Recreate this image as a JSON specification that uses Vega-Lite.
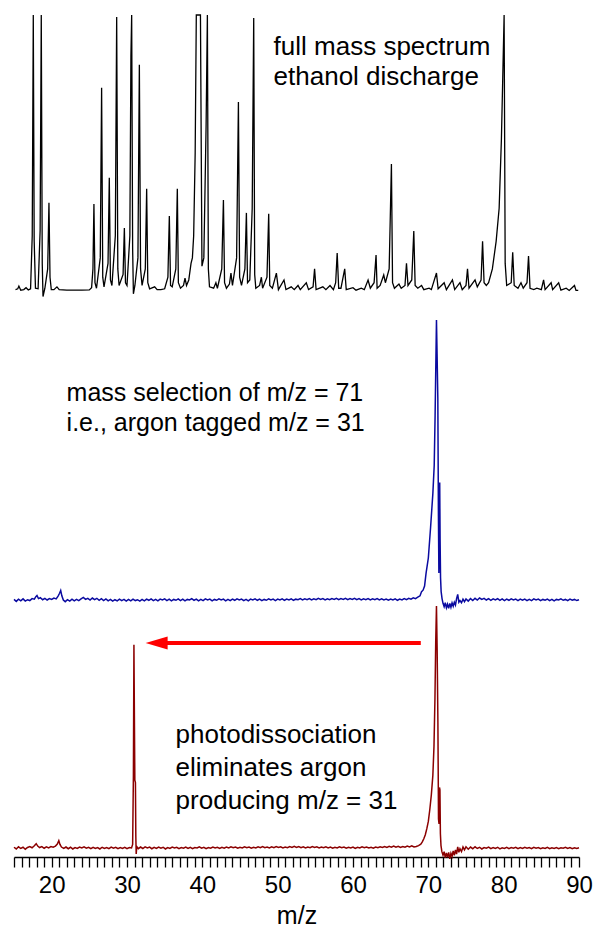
{
"$schema": "https://vega.github.io/schema/vega-lite/v6.json",
"width": 598, "height": 936,
"autosize": {"type": "fit", "contains": "padding"},
"padding": {"left": 11, "top": 10, "right": 5, "bottom": 8},
"background": "white",
"config": {"view": {"stroke": null}, "font": "Liberation Sans"},
"datasets": {
"black": [
{"m":15.2,"v":0.5},{"m":15.5,"v":0.8},{"m":15.65,"v":1.8},{"m":15.9,"v":0.3},{"m":16.3,"v":0.5},{"m":16.6,"v":1.2},{"m":16.9,"v":0.4},{"m":17.2,"v":0.8},{"m":17.42,"v":20},{"m":17.56,"v":100},{"m":17.68,"v":18},{"m":17.85,"v":1},{"m":18.2,"v":0.8},{"m":18.47,"v":22},{"m":18.62,"v":100},{"m":18.75,"v":10},{"m":18.85,"v":-2},{"m":19.1,"v":1},{"m":19.47,"v":8},{"m":19.64,"v":32},{"m":19.78,"v":5},{"m":19.95,"v":0.5},{"m":20.3,"v":0.5},{"m":20.7,"v":1.5},{"m":21.0,"v":0.5},{"m":22.0,"v":0.3},{"m":23.0,"v":0.3},{"m":24.0,"v":0.3},{"m":25.0,"v":0.4},{"m":25.3,"v":1.2},{"m":25.48,"v":8},{"m":25.61,"v":31.5},{"m":25.75,"v":3},{"m":25.95,"v":1},{"m":26.45,"v":12},{"m":26.63,"v":73.6},{"m":26.78,"v":5},{"m":26.95,"v":1.5},{"m":27.48,"v":10},{"m":27.65,"v":41},{"m":27.8,"v":4},{"m":28.0,"v":2},{"m":28.45,"v":20},{"m":28.63,"v":99.3},{"m":28.78,"v":8},{"m":28.95,"v":2},{"m":29.48,"v":6},{"m":29.65,"v":22.8},{"m":29.8,"v":3},{"m":30.0,"v":2},{"m":30.38,"v":20},{"m":30.52,"v":85},{"m":30.62,"v":100},{"m":30.75,"v":15},{"m":30.85,"v":-1},{"m":31.05,"v":2},{"m":31.45,"v":12},{"m":31.64,"v":82},{"m":31.8,"v":8},{"m":32.0,"v":2},{"m":32.43,"v":8},{"m":32.61,"v":37},{"m":32.76,"v":3},{"m":33.0,"v":0.8},{"m":33.67,"v":1.5},{"m":34.0,"v":0.5},{"m":34.5,"v":0.5},{"m":35.0,"v":0.8},{"m":35.43,"v":5},{"m":35.62,"v":27.2},{"m":35.78,"v":2},{"m":36.0,"v":1.5},{"m":36.48,"v":8},{"m":36.68,"v":37},{"m":36.82,"v":3},{"m":37.1,"v":1},{"m":37.5,"v":2},{"m":37.7,"v":4.7},{"m":37.9,"v":2},{"m":38.2,"v":4},{"m":38.5,"v":10},{"m":38.68,"v":12},{"m":38.85,"v":20},{"m":39.05,"v":50},{"m":39.2,"v":100},{"m":39.75,"v":100},{"m":39.95,"v":9},{"m":40.2,"v":12},{"m":40.5,"v":60},{"m":40.67,"v":100},{"m":40.8,"v":8},{"m":40.95,"v":1.5},{"m":41.5,"v":1},{"m":41.8,"v":3},{"m":42.0,"v":1},{"m":42.58,"v":8},{"m":42.8,"v":33},{"m":42.95,"v":3},{"m":43.2,"v":1},{"m":43.6,"v":2.5},{"m":43.8,"v":6.5},{"m":44.0,"v":2},{"m":44.55,"v":12},{"m":44.79,"v":68.5},{"m":44.95,"v":5},{"m":45.2,"v":2},{"m":45.65,"v":8},{"m":45.85,"v":28.3},{"m":46.0,"v":3},{"m":46.3,"v":4},{"m":46.62,"v":30},{"m":46.82,"v":98.9},{"m":46.95,"v":6},{"m":47.1,"v":1},{"m":47.6,"v":2},{"m":47.84,"v":5},{"m":48.0,"v":1},{"m":48.58,"v":5},{"m":48.81,"v":28},{"m":48.95,"v":2},{"m":49.3,"v":1},{"m":49.83,"v":6.5},{"m":50.1,"v":0.5},{"m":50.84,"v":4},{"m":51.1,"v":0.5},{"m":51.8,"v":1.5},{"m":52.2,"v":0.5},{"m":52.7,"v":2},{"m":53.0,"v":0.5},{"m":53.8,"v":3},{"m":54.1,"v":0.5},{"m":54.7,"v":1.5},{"m":54.9,"v":8},{"m":55.1,"v":0.5},{"m":56.0,"v":1.5},{"m":56.4,"v":0.5},{"m":56.95,"v":2},{"m":57.4,"v":0.5},{"m":57.7,"v":3},{"m":57.9,"v":13.8},{"m":58.1,"v":1},{"m":58.4,"v":1},{"m":58.9,"v":8},{"m":59.1,"v":0.5},{"m":60.0,"v":1.2},{"m":60.4,"v":0.3},{"m":61.1,"v":1},{"m":61.5,"v":0.5},{"m":62.0,"v":4},{"m":62.3,"v":1},{"m":62.8,"v":3},{"m":63.06,"v":13},{"m":63.2,"v":1},{"m":63.6,"v":2},{"m":64.08,"v":5.8},{"m":64.3,"v":3},{"m":64.8,"v":8},{"m":65.1,"v":46},{"m":65.25,"v":3},{"m":65.5,"v":1},{"m":66.1,"v":2.5},{"m":66.4,"v":1},{"m":66.9,"v":2},{"m":67.1,"v":10},{"m":67.3,"v":2},{"m":67.8,"v":4},{"m":68.07,"v":21.7},{"m":68.25,"v":2},{"m":68.6,"v":1},{"m":69.1,"v":2},{"m":69.4,"v":0.5},{"m":70.1,"v":1},{"m":70.4,"v":0.5},{"m":71.08,"v":6.5},{"m":71.3,"v":0.8},{"m":72.1,"v":3},{"m":72.4,"v":0.5},{"m":73.2,"v":4},{"m":73.5,"v":0.5},{"m":74.2,"v":3},{"m":74.5,"v":0.5},{"m":75.0,"v":2},{"m":75.2,"v":8},{"m":75.4,"v":1},{"m":76.2,"v":4},{"m":76.5,"v":1.5},{"m":77.0,"v":4},{"m":77.2,"v":18},{"m":77.4,"v":3},{"m":77.7,"v":2},{"m":78.0,"v":3},{"m":78.5,"v":8},{"m":79.0,"v":18},{"m":79.4,"v":30},{"m":79.7,"v":55},{"m":79.9,"v":80},{"m":80.06,"v":100},{"m":80.2,"v":10},{"m":80.4,"v":2},{"m":81.0,"v":3},{"m":81.2,"v":14},{"m":81.4,"v":2},{"m":81.9,"v":1},{"m":82.3,"v":3},{"m":82.6,"v":1},{"m":83.1,"v":3},{"m":83.3,"v":12.7},{"m":83.5,"v":1},{"m":84.0,"v":0.5},{"m":84.4,"v":1},{"m":85.0,"v":0.5},{"m":85.3,"v":4},{"m":85.5,"v":0.5},{"m":86.3,"v":3},{"m":86.5,"v":0.5},{"m":87.3,"v":3},{"m":87.6,"v":0.3},{"m":88.3,"v":1},{"m":88.7,"v":0.2},{"m":89.4,"v":2},{"m":89.6,"v":0.2},{"m":89.9,"v":0.2}
],
"blue": [
{"m":15.0,"v":0.2},{"m":15.3,"v":-0.5},{"m":15.6,"v":0.3},{"m":15.9,"v":-0.3},{"m":16.2,"v":0.4},{"m":16.5,"v":-0.4},{"m":16.8,"v":0.1},{"m":17.1,"v":-0.2},{"m":17.4,"v":0.5},{"m":17.7,"v":0.3},{"m":17.9,"v":1.2},{"m":18.05,"v":1.6},{"m":18.25,"v":0.5},{"m":18.5,"v":0.8},{"m":18.8,"v":0.1},{"m":19.1,"v":0.6},{"m":19.4,"v":0.0},{"m":19.7,"v":0.5},{"m":20.0,"v":0.2},{"m":20.3,"v":0.7},{"m":20.6,"v":0.4},{"m":20.85,"v":1.4},{"m":21.05,"v":2.4},{"m":21.2,"v":3.4},{"m":21.35,"v":1.5},{"m":21.55,"v":0.0},{"m":21.8,"v":-0.6},{"m":22.1,"v":0.1},{"m":22.4,"v":-0.4},{"m":22.7,"v":0.3},{"m":23.0,"v":-0.3},{"m":23.3,"v":0.2},{"m":23.6,"v":-0.2},{"m":23.9,"v":0.4},{"m":24.2,"v":0.9},{"m":24.5,"v":0.2},{"m":24.8,"v":0.6},{"m":25.1,"v":0.0},{"m":25.4,"v":0.7},{"m":25.7,"v":0.1},{"m":26.0,"v":0.6},{"m":26.3,"v":-0.1},{"m":26.6,"v":0.5},{"m":26.9,"v":-0.2},{"m":27.2,"v":0.4},{"m":27.5,"v":-0.3},{"m":27.8,"v":0.2},{"m":28.1,"v":-0.4},{"m":28.4,"v":0.1},{"m":28.7,"v":-0.3},{"m":29.0,"v":0.3},{"m":29.3,"v":-0.2},{"m":29.6,"v":0.2},{"m":29.9,"v":-0.4},{"m":30.2,"v":0.2},{"m":30.5,"v":-0.3},{"m":30.8,"v":0.3},{"m":31.1,"v":-0.2},{"m":31.4,"v":0.1},{"m":31.7,"v":-0.4},{"m":32.0,"v":0.2},{"m":32.3,"v":-0.3},{"m":32.6,"v":0.3},{"m":32.9,"v":-0.1},{"m":33.2,"v":0.4},{"m":33.5,"v":-0.2},{"m":33.8,"v":0.2},{"m":34.1,"v":-0.3},{"m":34.4,"v":0.3},{"m":34.7,"v":0.0},{"m":35.0,"v":0.4},{"m":35.3,"v":-0.2},{"m":35.6,"v":0.3},{"m":35.9,"v":-0.3},{"m":36.2,"v":0.2},{"m":36.5,"v":-0.1},{"m":36.8,"v":0.4},{"m":37.1,"v":-0.2},{"m":37.4,"v":0.3},{"m":37.7,"v":-0.3},{"m":38.0,"v":0.2},{"m":38.3,"v":0.0},{"m":38.6,"v":0.5},{"m":38.9,"v":-0.1},{"m":39.2,"v":0.3},{"m":39.5,"v":-0.3},{"m":39.8,"v":0.2},{"m":40.1,"v":-0.2},{"m":40.4,"v":0.4},{"m":40.7,"v":0.0},{"m":41.0,"v":0.3},{"m":41.3,"v":-0.3},{"m":41.6,"v":0.2},{"m":41.9,"v":-0.1},{"m":42.2,"v":0.4},{"m":42.5,"v":0.0},{"m":42.8,"v":0.3},{"m":43.1,"v":-0.3},{"m":43.4,"v":0.2},{"m":43.7,"v":-0.2},{"m":44.0,"v":0.3},{"m":44.3,"v":-0.1},{"m":44.6,"v":0.4},{"m":44.9,"v":0.0},{"m":45.2,"v":0.3},{"m":45.5,"v":-0.2},{"m":45.8,"v":0.2},{"m":46.1,"v":-0.3},{"m":46.4,"v":0.3},{"m":46.7,"v":0.0},{"m":47.0,"v":0.4},{"m":47.3,"v":-0.1},{"m":47.6,"v":0.3},{"m":47.9,"v":-0.2},{"m":48.2,"v":0.2},{"m":48.5,"v":-0.1},{"m":48.8,"v":0.4},{"m":49.1,"v":0.0},{"m":49.4,"v":0.3},{"m":49.7,"v":-0.2},{"m":50.0,"v":0.3},{"m":50.3,"v":0.0},{"m":50.6,"v":0.4},{"m":50.9,"v":-0.1},{"m":51.2,"v":0.3},{"m":51.5,"v":0.0},{"m":51.8,"v":0.4},{"m":52.1,"v":-0.1},{"m":52.4,"v":0.3},{"m":52.7,"v":0.1},{"m":53.0,"v":0.5},{"m":53.3,"v":0.0},{"m":53.6,"v":0.4},{"m":53.9,"v":0.1},{"m":54.2,"v":0.5},{"m":54.5,"v":0.0},{"m":54.8,"v":0.4},{"m":55.1,"v":0.1},{"m":55.4,"v":0.6},{"m":55.7,"v":0.2},{"m":56.0,"v":0.5},{"m":56.3,"v":0.0},{"m":56.6,"v":0.4},{"m":56.9,"v":0.1},{"m":57.2,"v":0.5},{"m":57.5,"v":0.2},{"m":57.8,"v":0.6},{"m":58.1,"v":0.1},{"m":58.4,"v":0.5},{"m":58.7,"v":0.2},{"m":59.0,"v":0.6},{"m":59.3,"v":0.1},{"m":59.6,"v":0.5},{"m":59.9,"v":0.2},{"m":60.2,"v":0.6},{"m":60.5,"v":0.1},{"m":60.8,"v":0.5},{"m":61.1,"v":0.0},{"m":61.4,"v":0.4},{"m":61.7,"v":0.1},{"m":62.0,"v":0.5},{"m":62.3,"v":0.0},{"m":62.6,"v":0.4},{"m":62.9,"v":0.1},{"m":63.2,"v":0.5},{"m":63.5,"v":0.0},{"m":63.8,"v":0.4},{"m":64.1,"v":0.0},{"m":64.4,"v":0.3},{"m":64.7,"v":-0.1},{"m":65.0,"v":0.3},{"m":65.3,"v":0.0},{"m":65.6,"v":0.4},{"m":65.9,"v":-0.1},{"m":66.2,"v":0.3},{"m":66.5,"v":0.0},{"m":66.8,"v":0.5},{"m":67.1,"v":0.1},{"m":67.4,"v":0.6},{"m":67.7,"v":0.3},{"m":68.0,"v":0.8},{"m":68.3,"v":0.5},{"m":68.6,"v":1.0},{"m":68.9,"v":1.5},{"m":69.1,"v":3.0},{"m":69.3,"v":3.5},{"m":69.5,"v":5},{"m":69.7,"v":9.6},{"m":70.0,"v":15},{"m":70.3,"v":26},{"m":70.6,"v":38},{"m":70.78,"v":48},{"m":70.9,"v":66},{"m":71.0,"v":85},{"m":71.08,"v":100},{"m":71.16,"v":88},{"m":71.26,"v":72},{"m":71.34,"v":30},{"m":71.4,"v":9.6},{"m":71.46,"v":26},{"m":71.51,"v":42},{"m":71.56,"v":22},{"m":71.62,"v":8},{"m":71.7,"v":3},{"m":71.82,"v":0.5},{"m":71.95,"v":-1.2},{"m":72.1,"v":-2.4},{"m":72.25,"v":-1.0},{"m":72.4,"v":-2.8},{"m":72.55,"v":-1.5},{"m":72.7,"v":-3.0},{"m":72.85,"v":-1.2},{"m":73.0,"v":-2.6},{"m":73.15,"v":-1.0},{"m":73.3,"v":-2.2},{"m":73.45,"v":-0.8},{"m":73.6,"v":-1.8},{"m":73.75,"v":0.5},{"m":73.9,"v":2.0},{"m":74.05,"v":-0.8},{"m":74.2,"v":-0.2},{"m":74.4,"v":-1.0},{"m":74.6,"v":0.3},{"m":74.8,"v":-0.6},{"m":75.0,"v":0.4},{"m":75.3,"v":-0.4},{"m":75.6,"v":0.5},{"m":75.9,"v":-0.2},{"m":76.2,"v":0.6},{"m":76.5,"v":0.0},{"m":76.8,"v":0.7},{"m":77.1,"v":0.2},{"m":77.4,"v":0.6},{"m":77.7,"v":0.0},{"m":78.0,"v":0.5},{"m":78.3,"v":-0.1},{"m":78.6,"v":0.4},{"m":78.9,"v":0.0},{"m":79.2,"v":0.5},{"m":79.5,"v":-0.1},{"m":79.8,"v":0.4},{"m":80.1,"v":-0.2},{"m":80.4,"v":0.3},{"m":80.7,"v":-0.1},{"m":81.0,"v":0.4},{"m":81.3,"v":0.0},{"m":81.6,"v":0.3},{"m":81.9,"v":-0.2},{"m":82.2,"v":0.3},{"m":82.5,"v":-0.1},{"m":82.8,"v":0.3},{"m":83.1,"v":-0.2},{"m":83.4,"v":0.2},{"m":83.7,"v":-0.2},{"m":84.0,"v":0.4},{"m":84.3,"v":0.0},{"m":84.6,"v":0.3},{"m":84.9,"v":-0.2},{"m":85.2,"v":0.2},{"m":85.5,"v":-0.1},{"m":85.8,"v":0.3},{"m":86.1,"v":-0.2},{"m":86.4,"v":0.2},{"m":86.7,"v":-0.3},{"m":87.0,"v":0.2},{"m":87.3,"v":0.0},{"m":87.6,"v":0.4},{"m":87.9,"v":-0.1},{"m":88.2,"v":0.2},{"m":88.5,"v":-0.2},{"m":88.8,"v":0.3},{"m":89.1,"v":-0.1},{"m":89.4,"v":0.2},{"m":89.7,"v":-0.2},{"m":90.0,"v":0.1}
],
"red": [
{"m":15.0,"v":0.3},{"m":15.3,"v":-0.4},{"m":15.6,"v":0.5},{"m":15.9,"v":-0.2},{"m":16.2,"v":0.3},{"m":16.5,"v":-0.5},{"m":16.8,"v":0.2},{"m":17.1,"v":0.6},{"m":17.4,"v":0.1},{"m":17.7,"v":0.9},{"m":17.95,"v":1.8},{"m":18.15,"v":0.8},{"m":18.4,"v":0.2},{"m":18.7,"v":0.6},{"m":19.0,"v":-0.1},{"m":19.3,"v":0.5},{"m":19.6,"v":0.0},{"m":19.9,"v":0.6},{"m":20.2,"v":0.3},{"m":20.5,"v":0.8},{"m":20.75,"v":1.6},{"m":20.95,"v":3.0},{"m":21.1,"v":1.5},{"m":21.3,"v":0.4},{"m":21.6,"v":-0.2},{"m":21.9,"v":0.4},{"m":22.2,"v":-0.3},{"m":22.5,"v":0.3},{"m":22.8,"v":-0.4},{"m":23.1,"v":0.2},{"m":23.4,"v":-0.2},{"m":23.7,"v":0.4},{"m":24.0,"v":0.0},{"m":24.3,"v":0.5},{"m":24.6,"v":-0.1},{"m":24.9,"v":0.3},{"m":25.2,"v":-0.3},{"m":25.5,"v":0.3},{"m":25.8,"v":-0.2},{"m":26.1,"v":0.2},{"m":26.4,"v":-0.4},{"m":26.7,"v":0.3},{"m":27.0,"v":-0.2},{"m":27.3,"v":0.2},{"m":27.6,"v":-0.3},{"m":27.9,"v":0.4},{"m":28.2,"v":-0.1},{"m":28.5,"v":0.3},{"m":28.8,"v":-0.3},{"m":29.1,"v":0.2},{"m":29.4,"v":-0.2},{"m":29.7,"v":0.3},{"m":30.0,"v":-0.3},{"m":30.3,"v":0.2},{"m":30.6,"v":0.0},{"m":30.75,"v":1.5},{"m":30.85,"v":30},{"m":30.92,"v":84},{"m":30.98,"v":55},{"m":31.04,"v":28},{"m":31.12,"v":27},{"m":31.17,"v":5},{"m":31.22,"v":-2.5},{"m":31.3,"v":0.6},{"m":31.5,"v":-0.3},{"m":31.8,"v":0.4},{"m":32.1,"v":-0.2},{"m":32.4,"v":0.5},{"m":32.7,"v":0.0},{"m":33.0,"v":0.4},{"m":33.3,"v":-0.3},{"m":33.6,"v":0.3},{"m":33.9,"v":-0.2},{"m":34.2,"v":0.4},{"m":34.5,"v":-0.1},{"m":34.8,"v":0.3},{"m":35.1,"v":-0.4},{"m":35.4,"v":0.2},{"m":35.7,"v":-0.2},{"m":36.0,"v":0.4},{"m":36.3,"v":0.0},{"m":36.6,"v":0.3},{"m":36.9,"v":-0.3},{"m":37.2,"v":0.2},{"m":37.5,"v":-0.1},{"m":37.8,"v":0.4},{"m":38.1,"v":-0.2},{"m":38.4,"v":0.3},{"m":38.7,"v":-0.3},{"m":39.0,"v":0.2},{"m":39.3,"v":0.0},{"m":39.6,"v":0.5},{"m":39.9,"v":-0.1},{"m":40.2,"v":0.3},{"m":40.5,"v":-0.3},{"m":40.8,"v":0.2},{"m":41.1,"v":-0.1},{"m":41.4,"v":0.4},{"m":41.7,"v":0.0},{"m":42.0,"v":0.3},{"m":42.3,"v":-0.2},{"m":42.6,"v":0.3},{"m":42.9,"v":-0.1},{"m":43.2,"v":0.4},{"m":43.5,"v":0.0},{"m":43.8,"v":0.5},{"m":44.1,"v":0.1},{"m":44.4,"v":0.4},{"m":44.7,"v":-0.1},{"m":45.0,"v":0.3},{"m":45.3,"v":0.0},{"m":45.6,"v":0.5},{"m":45.9,"v":0.1},{"m":46.2,"v":0.4},{"m":46.5,"v":-0.1},{"m":46.8,"v":0.3},{"m":47.1,"v":0.0},{"m":47.4,"v":0.5},{"m":47.7,"v":0.1},{"m":48.0,"v":0.6},{"m":48.3,"v":0.1},{"m":48.6,"v":0.4},{"m":48.9,"v":0.0},{"m":49.2,"v":0.5},{"m":49.5,"v":0.1},{"m":49.8,"v":0.6},{"m":50.1,"v":0.2},{"m":50.4,"v":0.5},{"m":50.7,"v":0.0},{"m":51.0,"v":0.4},{"m":51.3,"v":0.1},{"m":51.6,"v":0.6},{"m":51.9,"v":0.2},{"m":52.2,"v":0.7},{"m":52.5,"v":0.2},{"m":52.8,"v":0.6},{"m":53.1,"v":0.1},{"m":53.4,"v":0.5},{"m":53.7,"v":0.0},{"m":54.0,"v":0.4},{"m":54.3,"v":0.1},{"m":54.6,"v":0.6},{"m":54.9,"v":0.2},{"m":55.2,"v":0.5},{"m":55.5,"v":0.0},{"m":55.8,"v":0.4},{"m":56.1,"v":0.1},{"m":56.4,"v":0.5},{"m":56.7,"v":0.0},{"m":57.0,"v":0.4},{"m":57.3,"v":-0.1},{"m":57.6,"v":0.3},{"m":57.9,"v":0.0},{"m":58.2,"v":0.5},{"m":58.5,"v":0.1},{"m":58.8,"v":0.4},{"m":59.1,"v":-0.1},{"m":59.4,"v":0.3},{"m":59.7,"v":0.0},{"m":60.0,"v":0.4},{"m":60.3,"v":-0.2},{"m":60.6,"v":0.3},{"m":60.9,"v":0.0},{"m":61.2,"v":0.5},{"m":61.5,"v":0.1},{"m":61.8,"v":0.4},{"m":62.1,"v":0.0},{"m":62.4,"v":0.3},{"m":62.7,"v":-0.1},{"m":63.0,"v":0.4},{"m":63.3,"v":0.1},{"m":63.6,"v":0.5},{"m":63.9,"v":0.2},{"m":64.2,"v":0.6},{"m":64.5,"v":0.2},{"m":64.8,"v":0.7},{"m":65.1,"v":0.3},{"m":65.4,"v":0.8},{"m":65.7,"v":0.3},{"m":66.0,"v":0.7},{"m":66.3,"v":0.2},{"m":66.6,"v":0.6},{"m":66.9,"v":0.3},{"m":67.2,"v":0.8},{"m":67.5,"v":0.4},{"m":67.8,"v":0.9},{"m":68.1,"v":0.4},{"m":68.4,"v":0.6},{"m":68.7,"v":1.0},{"m":69.0,"v":1.6},{"m":69.2,"v":2.5},{"m":69.4,"v":3.8},{"m":69.6,"v":5.5},{"m":69.8,"v":8},{"m":70.0,"v":11},{"m":70.2,"v":16},{"m":70.4,"v":22},{"m":70.6,"v":30},{"m":70.75,"v":42},{"m":70.88,"v":62},{"m":70.98,"v":85},{"m":71.08,"v":100},{"m":71.17,"v":82},{"m":71.27,"v":52},{"m":71.35,"v":12},{"m":71.42,"v":10},{"m":71.48,"v":25},{"m":71.54,"v":24},{"m":71.6,"v":6},{"m":71.68,"v":1},{"m":71.8,"v":-1.5},{"m":71.95,"v":-3},{"m":72.1,"v":-1.5},{"m":72.25,"v":-4},{"m":72.4,"v":-2},{"m":72.55,"v":-3.8},{"m":72.7,"v":-1.8},{"m":72.85,"v":-4.5},{"m":73.0,"v":-2.2},{"m":73.15,"v":-3.5},{"m":73.3,"v":-1.2},{"m":73.45,"v":-3},{"m":73.6,"v":-0.8},{"m":73.75,"v":-2.5},{"m":73.9,"v":0.5},{"m":74.05,"v":-1.8},{"m":74.2,"v":-0.3},{"m":74.4,"v":-1.5},{"m":74.6,"v":0.4},{"m":74.8,"v":-0.8},{"m":75.0,"v":0.5},{"m":75.3,"v":-0.5},{"m":75.6,"v":0.4},{"m":75.9,"v":-0.3},{"m":76.2,"v":0.5},{"m":76.5,"v":-0.2},{"m":76.8,"v":0.3},{"m":77.1,"v":-0.4},{"m":77.4,"v":0.2},{"m":77.7,"v":-0.1},{"m":78.0,"v":0.4},{"m":78.3,"v":-0.3},{"m":78.6,"v":0.2},{"m":78.9,"v":-0.2},{"m":79.2,"v":0.3},{"m":79.5,"v":-0.4},{"m":79.8,"v":0.1},{"m":80.1,"v":-0.2},{"m":80.4,"v":0.3},{"m":80.7,"v":-0.3},{"m":81.0,"v":0.2},{"m":81.3,"v":-0.1},{"m":81.6,"v":0.3},{"m":81.9,"v":-0.3},{"m":82.2,"v":0.2},{"m":82.5,"v":-0.2},{"m":82.8,"v":0.3},{"m":83.1,"v":-0.1},{"m":83.4,"v":0.2},{"m":83.7,"v":-0.3},{"m":84.0,"v":0.3},{"m":84.3,"v":-0.1},{"m":84.6,"v":0.2},{"m":84.9,"v":-0.3},{"m":85.2,"v":0.1},{"m":85.5,"v":-0.2},{"m":85.8,"v":0.3},{"m":86.1,"v":-0.3},{"m":86.4,"v":0.1},{"m":86.7,"v":-0.2},{"m":87.0,"v":0.2},{"m":87.3,"v":-0.3},{"m":87.6,"v":0.1},{"m":87.9,"v":-0.1},{"m":88.2,"v":0.3},{"m":88.5,"v":-0.2},{"m":88.8,"v":0.2},{"m":89.1,"v":-0.3},{"m":89.4,"v":0.1},{"m":89.7,"v":-0.2},{"m":90.0,"v":0.1}
]
},
"encoding": {
 "x": {"field": "m", "type": "quantitative", "scale": {"domain": [15, 90], "nice": false, "zero": false},
  "axis": {"orient": "bottom", "values": [15,16,17,18,19,20,21,22,23,24,25,26,27,28,29,30,31,32,33,34,35,36,37,38,39,40,41,42,43,44,45,46,47,48,49,50,51,52,53,54,55,56,57,58,59,60,61,62,63,64,65,66,67,68,69,70,71,72,73,74,75,76,77,78,79,80,81,82,83,84,85,86,87,88,89,90],
   "labelExpr": "datum.value % 10 === 0 ? datum.label : ''",
   "tickSize": 10,
   "encode": {"ticks": {"update": {"y2": {"signal": "datum.value % 10 === 0 ? 10 : 5"}}}},
   "tickColor": "black", "tickWidth": 1.3, "domainColor": "black", "domainWidth": 1.5,
   "labelFont": "Liberation Sans", "labelFontSize": 24, "labelColor": "black", "labelPadding": 6,
   "labelFlush": false, "labelOverlap": false, "grid": false,
   "title": "m/z", "titleFont": "Liberation Sans", "titleFontSize": 25, "titleFontWeight": "normal", "titleColor": "black", "titlePadding": 6}}
},
"resolve": {"scale": {"y": "independent"}},
"layer": [
 {"data": {"name": "red"},
  "mark": {"type": "line", "color": "#8b0000", "strokeWidth": 1.5},
  "encoding": {
   "y": {"field": "v", "type": "quantitative", "scale": {"domain": [-3.72, 346.28], "nice": false, "zero": false}, "axis": null}
  }},
 {"data": {"name": "blue"},
  "mark": {"type": "line", "color": "#0a0aa0", "strokeWidth": 1.5},
  "encoding": {
   "y": {"field": "v", "type": "quantitative", "scale": {"domain": [-91.79, 210.71], "nice": false, "zero": false}, "axis": null}
  }},
 {"data": {"name": "black"},
  "mark": {"type": "line", "color": "#000000", "strokeWidth": 1.3},
  "encoding": {
   "y": {"field": "v", "type": "quantitative", "scale": {"domain": [-205.07, 101.81], "nice": false, "zero": false}, "axis": null}
  }},
 {"data": {"values": [{"m": 36.45}]},
  "mark": {"type": "text", "align": "left", "baseline": "alphabetic", "fontSize": 26, "lineHeight": 33, "color": "black", "font": "Liberation Sans"},
  "encoding": {
   "y": {"datum": 43.4, "type": "quantitative", "scale": {"domain": [-3.72, 346.28], "nice": false, "zero": false}, "axis": null},
   "text": {"value": ["photodissociation", "eliminates argon", "producing m/z = 31"]}
  }},
 {"data": {"values": [{"m": 34.6, "m2": 69.0}]},
  "mark": {"type": "rule", "color": "#ff0000", "strokeWidth": 4},
  "encoding": {
   "x2": {"field": "m2"},
   "y": {"datum": 84.7, "type": "quantitative", "scale": {"domain": [-3.72, 346.28], "nice": false, "zero": false}, "axis": null}
  }},
 {"data": {"values": [{"m": 33.93}]},
  "mark": {"type": "point", "shape": "M-1,0L1,-0.6L1,0.6Z", "filled": true, "color": "#ff0000", "size": 484, "opacity": 1, "strokeWidth": 0},
  "encoding": {
   "y": {"datum": 84.7, "type": "quantitative", "scale": {"domain": [-3.72, 346.28], "nice": false, "zero": false}, "axis": null}
  }},
 {"data": {"values": [{"m": 21.98}]},
  "mark": {"type": "text", "align": "left", "baseline": "alphabetic", "fontSize": 25, "lineHeight": 30, "color": "black", "font": "Liberation Sans"},
  "encoding": {
   "y": {"datum": 71.1, "type": "quantitative", "scale": {"domain": [-91.79, 210.71], "nice": false, "zero": false}, "axis": null},
   "text": {"value": ["mass selection of m/z = 71", "i.e., argon tagged m/z = 31"]}
  }},
 {"data": {"values": [{"m": 49.46}]},
  "mark": {"type": "text", "align": "left", "baseline": "alphabetic", "fontSize": 26, "lineHeight": 30, "color": "black", "font": "Liberation Sans"},
  "encoding": {
   "y": {"datum": 85.5, "type": "quantitative", "scale": {"domain": [-205.07, 101.81], "nice": false, "zero": false}, "axis": null},
   "text": {"value": ["full mass spectrum", "ethanol discharge"]}
  }}
]
}
